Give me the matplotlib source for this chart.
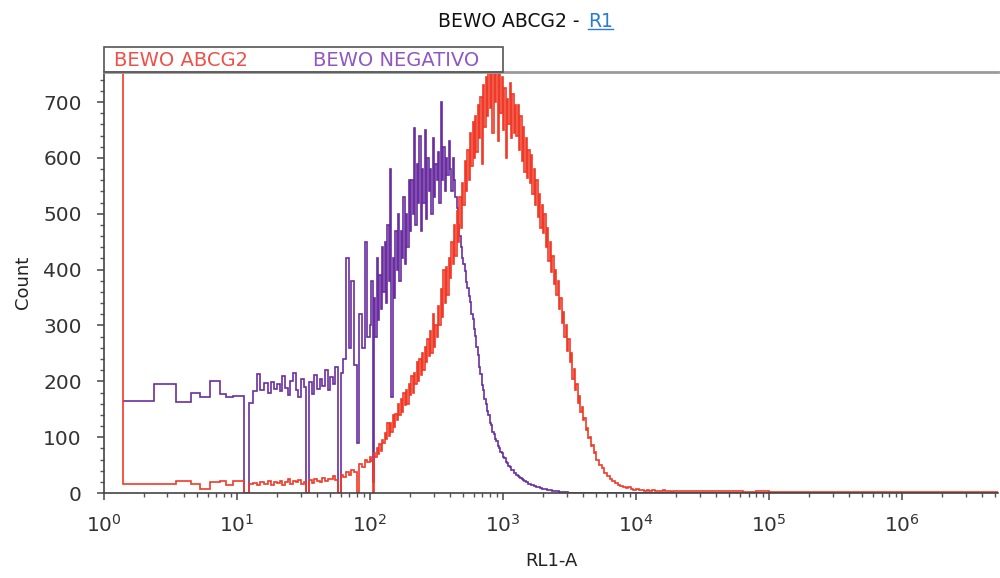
import matplotlib
matplotlib.use('Agg')
import matplotlib.pyplot as plt
from matplotlib.patches import Rectangle
from matplotlib.lines import Line2D
from matplotlib.ticker import MultipleLocator, LogLocator, NullFormatter
import numpy as np

plt.rcParams['font.family'] = ['DejaVu Sans']
plt.rcParams['mathtext.fontset'] = 'dejavusans'

# wide low-channel bins (linear edges)
low_edges = [1.39, 2.38, 3.47, 4.5, 5.3, 6.3, 7.5, 8.3, 9.3, 11.3, 12.3,
             13.2, 14.1, 15.0, 16.0, 17.0, 18.0, 19.0, 19.95]
red_low = [16, 16, 22, 16, 7, 19, 21, 15, 21, 0, 16, 18, 14, 20, 17, 22, 15, 19]
purple_low = [165, 195, 163, 180, 172, 201, 177, 172, 174, 0, 161, 183, 213,
              184, 197, 180, 199, 186]

# off-scale first channel of the red sample
red_first_edge = 1.385
red_first = 3000

# 10^1.30 .. 10^2.00, 0.02 decade bins
red_a = [18, 22, 15, 20, 25, 17, 21, 19, 24, 16,
         20, 0, 23, 18, 26, 21, 19, 27, 22, 25,
         26, 30, 24, 0, 32, 29, 38, 33, 42, 37,
         0, 52, 47, 60, 55]
purple_a = [195, 182, 210, 188, 176, 200, 215, 185, 172, 205,
            190, 0, 198, 178, 212, 186, 205, 192, 220, 184,
            208, 195, 225, 0, 215, 240, 420, 260, 380, 230,
            90, 320, 260, 450, 280]

# 10^2.00 .. 10^3.70, 0.01 decade bins
red_b = [65, 58, 0, 72, 64, 80, 70, 88, 76, 95,
         90, 108, 96, 125, 102, 125, 110, 140, 118, 142,
         130, 160, 140, 168, 145, 180, 158, 185, 160, 195,
         175, 210, 180, 215, 195, 235, 200, 240, 212, 250,
         220, 262, 235, 275, 245, 290, 250, 320, 262, 300,
         280, 335, 300, 365, 315, 400, 340, 405, 355, 420,
         385, 450, 410, 480, 425, 505, 450, 530, 475, 555,
         515, 595, 540, 615, 560, 645, 585, 665, 600, 675,
         610, 695, 635, 710, 590, 730, 655, 745, 675, 765,
         690, 790, 645, 765, 700, 805, 630, 775, 680, 745,
         650, 725, 600, 705, 660, 735, 635, 715, 645, 695,
         640, 695, 615, 675, 595, 655, 575, 635, 565, 615,
         555, 605, 535, 580, 515, 560, 495, 535, 475, 515,
         465, 500, 440, 475, 415, 450, 395, 425, 375, 400,
         355, 380, 330, 350, 305, 325, 280, 300, 255, 275,
         235, 250, 205, 222, 185, 196, 162, 174, 145, 154,
         130, 134, 113, 116, 98, 100, 84, 86, 72, 74]
purple_b = [300, 380, 20, 350, 280, 420, 310, 390, 330, 440,
            360, 450, 340, 480, 380, 580, 172, 420, 350, 470,
            400, 500, 380, 470, 420, 530, 410, 500, 440, 560,
            470, 560, 500, 653, 480, 590, 520, 640, 470, 580,
            520, 650, 490, 600, 540, 580, 500, 635, 530, 590,
            560, 610, 520, 700, 560, 620, 540, 600, 570, 630,
            580, 540, 600, 560, 530, 510, 480, 460, 440, 420,
            410, 398, 378, 368, 352, 342, 320, 312, 294, 282,
            262, 248, 226, 214, 194, 184, 168, 160, 146, 140,
            126, 121, 110, 106, 96, 93, 84, 81, 73, 71,
            65, 62, 56, 54, 48, 47, 42, 41, 36, 35,
            33, 31, 29, 27, 25, 23, 22, 20, 19, 17,
            16, 15, 14, 13, 12, 11, 10, 10, 9, 8,
            8, 7, 7, 6, 6, 5, 5, 4, 4, 3,
            3, 3, 2, 2, 2, 1, 1, 1, 1, 0,
            0, 0, 0, 0, 0, 0, 0, 0, 0, 0,
            0, 0, 0, 0, 0, 0, 0, 0, 0, 0]

# 10^3.70 .. 10^4.30, 0.02 decade bins
red_c = [60, 50, 44, 36, 31, 26, 22, 18, 15, 12,
         11, 9, 10, 7, 6, 8, 5, 6, 4, 5,
         4, 5, 3, 4, 3, 5, 3, 4, 2, 3]
purple_c = [0] * 30

# tail, 0.1 decade bins up to 10^6.8
tail_log_edges = [4.3, 4.4, 4.5, 4.6, 4.7, 4.8, 4.9, 5.0, 5.1, 5.2, 5.3, 5.4,
                  5.5, 5.6, 5.7, 5.8, 5.9, 6.0, 6.1, 6.2, 6.3, 6.4, 6.5, 6.6,
                  6.7, 6.8]
red_tail = [4, 3, 4, 3, 3, 2, 3, 2, 2, 2, 2, 2, 2, 2, 2, 2, 2, 2, 2, 2, 2, 2,
            2, 2, 2]
purple_tail = [0] * 25

x_decades = [0, 1, 2, 3, 4, 5, 6]
y_ticks = [0, 100, 200, 300, 400, 500, 600, 700]

red_color = '#f03a28'
purple_color = '#6a2ea0'


def log_grid(start, stop, step):
    return 10 ** np.round(np.arange(start, stop + 1e-9, step), 2)


edges = np.concatenate([low_edges,
                        log_grid(1.30, 2.00, 0.02)[1:],
                        log_grid(2.00, 3.70, 0.01)[1:],
                        log_grid(3.70, 4.30, 0.02)[1:],
                        (10 ** np.array(tail_log_edges))[1:]])
red_counts = np.concatenate([[red_first], red_low, red_a, red_b, red_c, red_tail])
purple_counts = np.concatenate([purple_low, purple_a, purple_b, purple_c,
                                purple_tail])
red_edges = np.concatenate([[red_first_edge], edges])

fig = plt.figure(figsize=(10, 5.78), dpi=100)
ax = fig.add_axes([0.104, 0.147, 0.894, 0.7285])

ax.stairs(purple_counts, edges, baseline=None, color=purple_color, lw=1.2)
ax.stairs(red_counts, red_edges, baseline=None, color=red_color, lw=1.2)

ax.set_xscale('log')
ax.set_xlim(1, 10 ** 6.72)
ax.set_ylim(0, 754)
ax.set_xticks([10 ** d for d in x_decades])
ax.set_xticklabels([r'$10^{%d}$' % d for d in x_decades])
ax.xaxis.set_minor_locator(LogLocator(base=10, subs=np.arange(2, 10)))
ax.xaxis.set_minor_formatter(NullFormatter())
ax.set_yticks(y_ticks)
ax.yaxis.set_minor_locator(MultipleLocator(20))

ax.tick_params(axis='both', which='major', length=5, width=1.2,
               color='#555555', labelcolor='#333333', labelsize=14.5)
ax.tick_params(axis='both', which='minor', length=3, width=1,
               color='#555555')
ax.tick_params(axis='x', pad=10)
ax.tick_params(axis='y', pad=11)

for side in ['left', 'bottom']:
    ax.spines[side].set_color('#444444')
    ax.spines[side].set_linewidth(1.2)
ax.spines['right'].set_visible(False)
ax.spines['top'].set_color('#9a9a9a')
ax.spines['top'].set_linewidth(2)

ax.set_xlabel('RL1-A', fontsize=13, color='#222222', labelpad=12)
ax.set_ylabel('Count', fontsize=13, color='#222222', labelpad=8)

# legend strip above the plot
fig.patches.append(Rectangle((0.104, 0.8754), 0.399, 0.0433,
                             transform=fig.transFigure, fill=False,
                             edgecolor='#555555', lw=1.2))
fig.text(0.114, 0.896, 'BEWO ABCG2', color='#f0504a', fontsize=14,
         va='center', ha='left')
fig.text(0.313, 0.896, 'BEWO NEGATIVO', color='#9057c4', fontsize=14,
         va='center', ha='left')

# title, with the linked "R1" underlined
fig.text(0.586, 0.962, 'BEWO ABCG2 - ', fontsize=13.5, color='#111111',
         ha='right', va='center')
r1 = fig.text(0.588, 0.962, 'R1', fontsize=13.5, color='#2a7bd8',
              ha='left', va='center')
fig.canvas.draw()
bb = r1.get_window_extent().transformed(fig.transFigure.inverted())
fig.lines.append(Line2D([bb.x0, bb.x1], [bb.y0 + 0.004, bb.y0 + 0.004],
                        transform=fig.transFigure, color='#2a7bd8', lw=1))

fig.savefig('out.png', dpi=100)
